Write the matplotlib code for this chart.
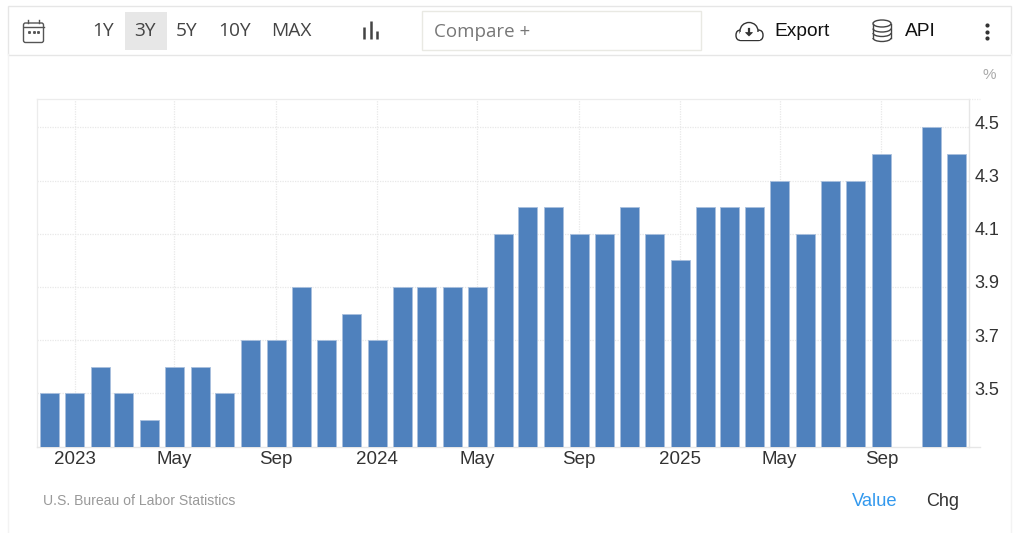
import numpy as np
import pandas as pd
import matplotlib
matplotlib.use("Agg")
import matplotlib.pyplot as plt
import matplotlib.dates as mdates
from matplotlib.patches import Rectangle, FancyBboxPatch, Ellipse, Polygon, Arc

months = pd.date_range("2022-12-01", "2025-12-01", freq="MS")
values = [3.5, 3.5, 3.6, 3.5, 3.4, 3.6, 3.6, 3.5, 3.7, 3.7, 3.9, 3.7, 3.8,
          3.7, 3.9, 3.9, 3.9, 3.9, 4.1, 4.2, 4.2, 4.1, 4.1, 4.2, 4.1,
          4.0, 4.2, 4.2, 4.2, 4.3, 4.1, 4.3, 4.3, 4.4, np.nan, 4.5, 4.4]
y_ticks = [3.5, 3.7, 3.9, 4.1, 4.3, 4.5]
x_tick_dates = ["2023-01-01", "2023-05-01", "2023-09-01", "2024-01-01", "2024-05-01",
                "2024-09-01", "2025-01-01", "2025-05-01", "2025-09-01"]
x_tick_labels = ["2023", "May", "Sep", "2024", "May", "Sep", "2025", "May", "Sep"]
range_labels = ["1Y", "3Y", "5Y", "10Y", "MAX"]

W, H = 1024, 533
L, R, T, B = 37, 969, 98.5, 446.5
fig = plt.figure(figsize=(W / 100, H / 100), dpi=100, facecolor="white")

# ---- chart axes
ax = fig.add_axes([L / W, 1 - B / H, (R - L) / W, (B - T) / H])
px_per_day = 0.828
jan_px = 75
jan = mdates.date2num(pd.Timestamp("2023-01-01"))
ax.set_xlim(jan - (jan_px - L) / px_per_day, jan + (R - jan_px) / px_per_day)
ax.set_ylim(3.3, 3.3 + (B - T) / 266)
x = mdates.date2num(months)
ax.bar(x, values, width=19 / px_per_day, color="#4f81bd", edgecolor="#a9c0de", linewidth=0.6, zorder=3)
ax.set_yticks(y_ticks)
ax.set_yticklabels([])
ax.set_xticks(mdates.date2num(pd.to_datetime(x_tick_dates)))
ax.set_xticklabels(x_tick_labels, fontsize=13.5, color="#333333", family="Liberation Sans")
ax.tick_params(axis="both", length=0)
ax.tick_params(axis="x", pad=3)
# value labels sit slightly above their gridlines in the reference
for v in y_ticks:
    ax.annotate(f"{v:.1f}", xy=(1, v), xycoords=("axes fraction", "data"),
                xytext=(5.5 * 0.72, 3 * 0.72), textcoords="offset points",
                ha="left", va="center", fontsize=13, color="#333333",
                family="Liberation Sans", annotation_clip=False)
ax.grid(True, color="#e8e8e8", linewidth=0.9, linestyle=(0, (1, 1)), zorder=0)
for s in ["top", "left"]:
    ax.spines[s].set_color("#ececec")
    ax.spines[s].set_linestyle((0, (1, 1)))
    ax.spines[s].set_linewidth(0.9)
for s in ["right", "bottom"]:
    ax.spines[s].set_color("#e6e6e6")
    ax.spines[s].set_linewidth(1.0)

# ---- overlay in pixel coordinates
ov = fig.add_axes([0, 0, 1, 1], zorder=5)
ov.set_xlim(0, W)
ov.set_ylim(H, 0)
ov.axis("off")
ov.patch.set_alpha(0)

ov.plot([R, 980], [B, B], color="#e6e6e6", lw=1)
ov.plot([R, 980], [T, T], color="#ececec", lw=0.9, ls=(0, (1, 1)))
ov.plot([8, 8], [54, H], color="#f3f3f3", lw=1)
ov.plot([1011, 1011], [54, H], color="#f3f3f3", lw=1)
ov.add_patch(Rectangle((8, 5.5), 1003, 49, fc="white", ec="#e6e6e6", lw=1))
ov.add_patch(Rectangle((124.5, 12), 42, 38, fc="#e7e7e7", ec="none"))
ov.add_patch(Rectangle((421.5, 10.5), 279, 39, fc="white", ec="#e9e9e3", lw=1))

for lab, cx in zip(range_labels, [103.5, 145, 187, 234.5, 291]):
    ov.text(cx, 31.5, lab, ha="center", va="center", fontsize=13.8, color="#444444", family="Open Sans")
ov.text(434, 32, "Compare +", ha="left", va="center", fontsize=13.5, color="#777777", family="Open Sans")
ov.text(774.5, 31.5, "Export", ha="left", va="center", fontsize=13.8, color="#111111", family="Liberation Sans")
ov.text(904.5, 31.5, "API", ha="left", va="center", fontsize=13.8, color="#111111", family="Liberation Sans")
ov.text(989, 75, "%", ha="center", va="center", fontsize=11, color="#aaaaaa", family="Liberation Sans")
ov.text(43, 500.8, "U.S. Bureau of Labor Statistics", ha="left", va="center", fontsize=10.1, color="#999999", family="Liberation Sans")
ov.text(852, 501, "Value", ha="left", va="center", fontsize=13.2, color="#3399ee", family="Liberation Sans")
ov.text(926, 501, "Chg", ha="left", va="center", fontsize=13, color="#333333", family="Liberation Sans")

# calendar icon
ic = "#555555"
ov.add_patch(FancyBboxPatch((23.5, 23), 20, 19.5, boxstyle="round,pad=0,rounding_size=2", fc="white", ec=ic, lw=1))
ov.plot([23.5, 43.5], [27, 27], color=ic, lw=1)
ov.plot([28, 28], [20, 23], color=ic, lw=1)
ov.plot([39, 39], [20, 23], color=ic, lw=1)
ov.plot([29, 33.5, 38], [32, 32, 32], ls="none", marker="s", ms=1.1, color=ic)

# bars icon
for bx, top in [(364, 27), (371, 21), (377, 31)]:
    ov.plot([bx, bx], [top, 39], color="#444444", lw=1.8, solid_capstyle="butt")

# cloud icon
cc = "#333333"
ov.add_patch(FancyBboxPatch((736, 30), 27, 10.5, boxstyle="round,pad=0,rounding_size=5", fc="white", ec=cc, lw=1))
ov.add_patch(Ellipse((749, 31), 18, 17, fc="white", ec=cc, lw=1))
ov.add_patch(Rectangle((740, 32), 20, 7.8, fc="white", ec="none"))
ov.add_patch(Polygon([[745.5, 32.5], [752.5, 32.5], [749, 36]], fc=cc, ec=cc, lw=0.5))
ov.plot([749, 749], [29, 33], color=cc, lw=1.6)

# database icon
dc = "#444444"
ov.plot([873, 873], [23.5, 38], color=dc, lw=1)
ov.plot([891, 891], [23.5, 38], color=dc, lw=1)
ov.add_patch(Ellipse((882, 23.5), 18, 7, fc="none", ec=dc, lw=1))
for yy in [28.5, 33, 38]:
    ov.add_patch(Arc((882, yy), 18, 7, theta1=0, theta2=180, ec=dc, lw=1))

# kebab
ov.plot([986.5] * 3, [25, 31.5, 38], ls="none", marker="o", ms=3, mew=0, color="#333333")

fig.savefig("out.png", dpi=100)
